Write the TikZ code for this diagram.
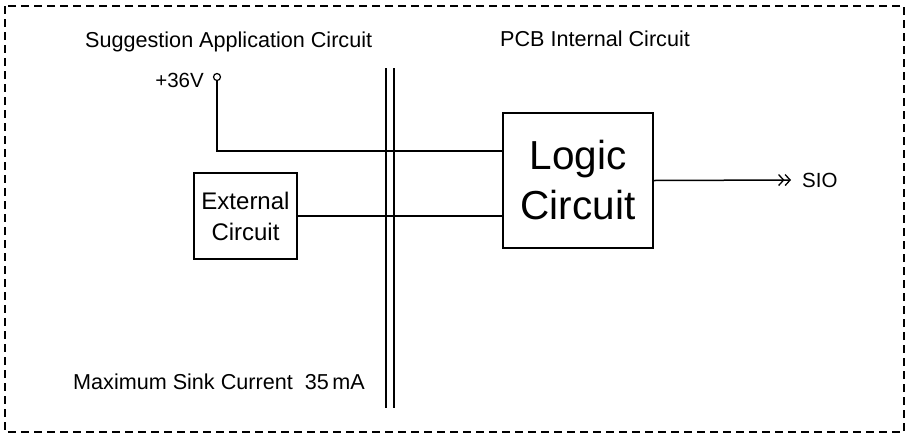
\documentclass[tikz,border=0pt]{standalone}
\usepackage{fontspec}
\setmainfont{Liberation Sans}
\usetikzlibrary{arrows.meta}
\begin{document}
\begin{tikzpicture}[x=1pt,y=-1pt,
  lbl/.style={inner sep=0pt,font=\fontsize{21.6}{26}\selectfont},
  blk/.style={draw,line width=1.8pt,inner sep=0pt,align=center},
  wire/.style={line width=1.5pt},
  bar/.style={line width=2pt},
  frame/.style={line width=1.1pt,dash pattern=on 8pt off 5pt}]
\useasboundingbox (0,0) rectangle (910,437);
\draw[frame] (5,6) rectangle (904,432);
% titles
\node[lbl,anchor=base west] (t1) at (85,47) {Suggestion Application Circuit};
\node[lbl,anchor=base west] (t2) at (500,46) {PCB Internal Circuit};
\node[lbl,anchor=base west] (t3) at (73,389) {Maximum Sink Current\ \ 35\,mA};
% blocks
\node[blk,minimum width=150pt,minimum height=135pt,font=\fontsize{40.5}{50}\selectfont] (logic) at (578,180.5) {Logic\\Circuit};
\node[blk,minimum width=103pt,minimum height=86pt,font=\fontsize{24}{31}\selectfont] (ext) at (245.5,216) {External\\Circuit};
% supply
\node[draw,circle,line width=1.2pt,minimum size=7pt,inner sep=0pt] (vcc) at (217,77) {};
\node[lbl,font=\fontsize{20.5}{24}\selectfont,anchor=base east] (vlbl) at (204,87) {+36V};
\coordinate (corner) at (217,151);
\draw[wire] (vcc.south) -- (corner) -- (corner -| logic.west);
\draw[wire] (ext.east) -- (ext.east -| logic.west);
% isolation bars
\coordinate (b1t) at (386,68); \coordinate (b1b) at (386,408);
\coordinate (b2t) at (394,68); \coordinate (b2b) at (394,408);
\draw[bar] (b1t) -- (b1b);
\draw[bar] (b2t) -- (b2b);
% output
\node[lbl,font=\fontsize{20.5}{24}\selectfont,anchor=base west] (sio) at (802,187) {SIO};
\coordinate (tip) at (791,180);
\draw[wire,-{Straight Barb[length=5pt,width=11pt,line width=1.3pt]Straight Barb[length=5pt,width=11pt,line width=1.3pt]}] (logic.east) -- (tip);
\end{tikzpicture}
\end{document}
